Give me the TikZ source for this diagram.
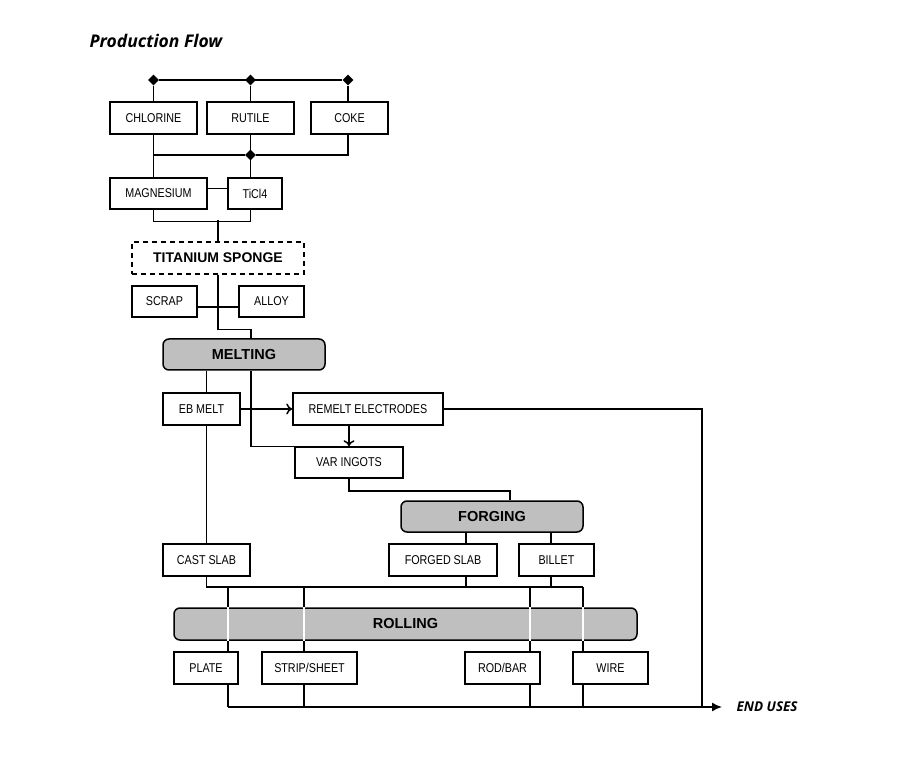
\documentclass[tikz,border=0pt]{standalone}
\usepackage{fontspec}
\setmainfont{Liberation Sans}
\newfontfamily\boxfont[FakeStretch=0.84]{Liberation Sans}
\newfontfamily\titlefont{Open Sans}
\usetikzlibrary{shapes.geometric,arrows.meta,positioning,calc}

\begin{document}
\begin{tikzpicture}[x=1pt, y=-1pt]

% Define styles
\tikzstyle{box} = [rectangle, draw=black, fill=white, line width=1.5pt, minimum height=32pt, inner sep=0pt, text centered, font=\boxfont\fontsize{12.8}{15}\selectfont]
\tikzstyle{stage} = [rectangle, rounded corners=6pt, draw=black, fill=black!25, line width=1.5pt, minimum height=31pt, inner sep=0pt, text centered, font=\bfseries\fontsize{14.5}{17}\selectfont]
\tikzstyle{pool} = [box, dash pattern=on 5pt off 4pt, font=\bfseries\fontsize{14}{17}\selectfont]
\tikzstyle{junction} = [diamond, fill=black, inner sep=0pt, minimum width=11pt, minimum height=11pt]
\tikzstyle{line} = [line width=1.5pt]
\tikzstyle{arrow} = [line width=1.5pt, -{To[length=6pt,width=11pt]}]
\tikzstyle{endarrow} = [line width=1.5pt, -{Latex[length=10pt,width=9pt]}]

\useasboundingbox (0,0) rectangle (900,759);

% Title
\node (title) [anchor=west, font=\titlefont\bfseries\itshape\fontsize{17.5}{21}\selectfont] at (86,41) {Production Flow};

% Raw materials
\node (chlorine) [box, minimum width=87pt] at (153.5,118) {CHLORINE};
\node (rutile) [box, minimum width=87pt] at (250.5,118) {RUTILE};
\node (coke) [box, minimum width=77pt] at (349.5,118) {COKE};

% Feed line on top
\node (jchlorine) [junction] at (153.5,80) {};
\node (jrutile) [junction] at (250.5,80) {};
\node (jcoke) [junction] at (348,80) {};
\draw [line] (jchlorine) -- (jcoke);
\draw [line] (jchlorine) -- (chlorine.north);
\draw [line] (jrutile) -- (rutile.north);
\draw [line] (jcoke) -- (jcoke |- coke.north);

% Reduction
\node (magnesium) [box, minimum width=97pt, minimum height=31pt] at (158.5,193.5) {MAGNESIUM};
\node (ticl4) [box, minimum width=54pt, minimum height=31pt] at (255,193.5) {TiCl4};
\node (jmix) [junction] at (250.5,155) {};
\draw [line] (chlorine.south) -- (chlorine.south |- magnesium.north);
\draw [line] (rutile.south) -- (rutile.south |- ticl4.north);
\draw [line] (chlorine.south |- jmix) -- (jmix) -| (jcoke |- coke.south);
\draw [line] ([yshift=5pt]magnesium.east) -- ([yshift=5pt]ticl4.west);

% Sponge
\node (sponge) [pool, minimum width=172pt] at (218,258) {TITANIUM SPONGE};
\draw [line] (chlorine.south |- magnesium.south) -- ++(0,12) -| (rutile.south |- ticl4.south);
\draw [line] (sponge.north) -- ++(0,-21);

\node (scrap) [box, minimum width=65pt, minimum height=31pt] at (164.5,301.5) {SCRAP};
\node (alloy) [box, minimum width=65pt, minimum height=31pt] at (271.5,301.5) {ALLOY};
\draw [line] ([yshift=-5.5pt]scrap.east) -- ([yshift=-5.5pt]alloy.west);

% Melting
\node (melting) [stage, minimum width=162pt] at (244,354.5) {MELTING};
\draw [line] (sponge.south) -- ++(0,55) -| ([xshift=7pt]melting.north);

\node (ebmelt) [box, minimum width=77pt] at (201.5,409) {EB MELT};
\node (remelt) [box, minimum width=150pt] at (368,409) {REMELT ELECTRODES};
\node (varingots) [box, minimum width=108pt, minimum height=31pt] at (349,462.5) {VAR INGOTS};
\node (castslab) [box, minimum width=87pt] at (206.5,560) {CAST SLAB};

\draw [line] (melting.south -| castslab.north) -- (ebmelt.north -| castslab.north);
\draw [line] (ebmelt.south -| castslab.north) -- (castslab.north);
\draw [line] ([xshift=7pt]melting.south) |- (varingots.north west);
\draw [arrow] (ebmelt.east) -- (remelt.west);
\draw [arrow] (remelt.south -| varingots.north) -- (varingots.north);

% Forging
\node (forging) [stage, minimum width=182pt] at (492,516.5) {FORGING};
\node (forgedslab) [box, minimum width=108pt] at (443,560) {FORGED SLAB};
\node (billet) [box, minimum width=75pt] at (556.5,560) {BILLET};
\draw [line] (varingots.south) -- ++(0,12) -| ([xshift=18pt]forging.north);

\coordinate (slabcol) at ([xshift=23pt]forgedslab.north);
\coordinate (billetcol) at ([xshift=-5.5pt]billet.north);
\draw [line] (slabcol |- forging.south) -- (slabcol);
\draw [line] (billetcol |- forging.south) -- (billetcol);

% Rolling
\node (rolling) [stage, minimum width=463pt, minimum height=32pt] at (405.5,624) {ROLLING};
\node (plate) [box, minimum width=64pt] at (206,668) {PLATE};
\node (strip) [box, minimum width=95pt] at (309.5,668) {STRIP/SHEET};
\node (rodbar) [box, minimum width=75pt] at (502.5,668) {ROD/BAR};
\node (wire) [box, minimum width=75pt] at (610.5,668) {WIRE};

\coordinate (rollbus) at ($(castslab.south)+(0,10)$);
\coordinate (platecol) at ([xshift=22pt]plate.north);
\coordinate (stripcol) at ([xshift=-5.5pt]strip.north);
\coordinate (rodcol) at ([xshift=27.5pt]rodbar.north);
\coordinate (wirecol) at ([xshift=-27.5pt]wire.north);

\draw [line] (castslab.south) -- (rollbus) -- (wirecol |- rollbus);
\draw [line] (slabcol |- forgedslab.south) -- (slabcol |- rollbus);
\draw [line] (billetcol |- billet.south) -- (billetcol |- rollbus);

\draw [line] (platecol |- rollbus) -- (platecol |- rolling.north);
\draw [line] (stripcol |- rollbus) -- (stripcol |- rolling.north);
\draw [line] (rodcol |- rollbus) -- (rodcol |- rolling.north);
\draw [line] (wirecol |- rollbus) -- (wirecol |- rolling.north);

\draw [line, white] (platecol |- rolling.north) -- (platecol |- rolling.south);
\draw [line, white] (stripcol |- rolling.north) -- (stripcol |- rolling.south);
\draw [line, white] (rodcol |- rolling.north) -- (rodcol |- rolling.south);
\draw [line, white] (wirecol |- rolling.north) -- (wirecol |- rolling.south);

\draw [line] (platecol |- rolling.south) -- (platecol);
\draw [line] (stripcol |- rolling.south) -- (stripcol);
\draw [line] (rodcol |- rolling.south) -- (rodcol);
\draw [line] (wirecol |- rolling.south) -- (wirecol);

% End uses
\node (enduses) [anchor=west, font=\titlefont\bfseries\itshape\fontsize{13.5}{16}\selectfont] at (733,707) {END USES};
\draw [line] (remelt.east) -| ($(enduses.west)+(-31pt,0)$);
\draw [line] (platecol |- plate.south) -- (platecol |- enduses);
\draw [line] (stripcol |- strip.south) -- (stripcol |- enduses);
\draw [line] (rodcol |- rodbar.south) -- (rodcol |- enduses);
\draw [line] (wirecol |- wire.south) -- (wirecol |- enduses);
\draw [endarrow] (platecol |- enduses) -- ($(enduses.west)+(-11pt,0)$);

\end{tikzpicture}
\end{document}
